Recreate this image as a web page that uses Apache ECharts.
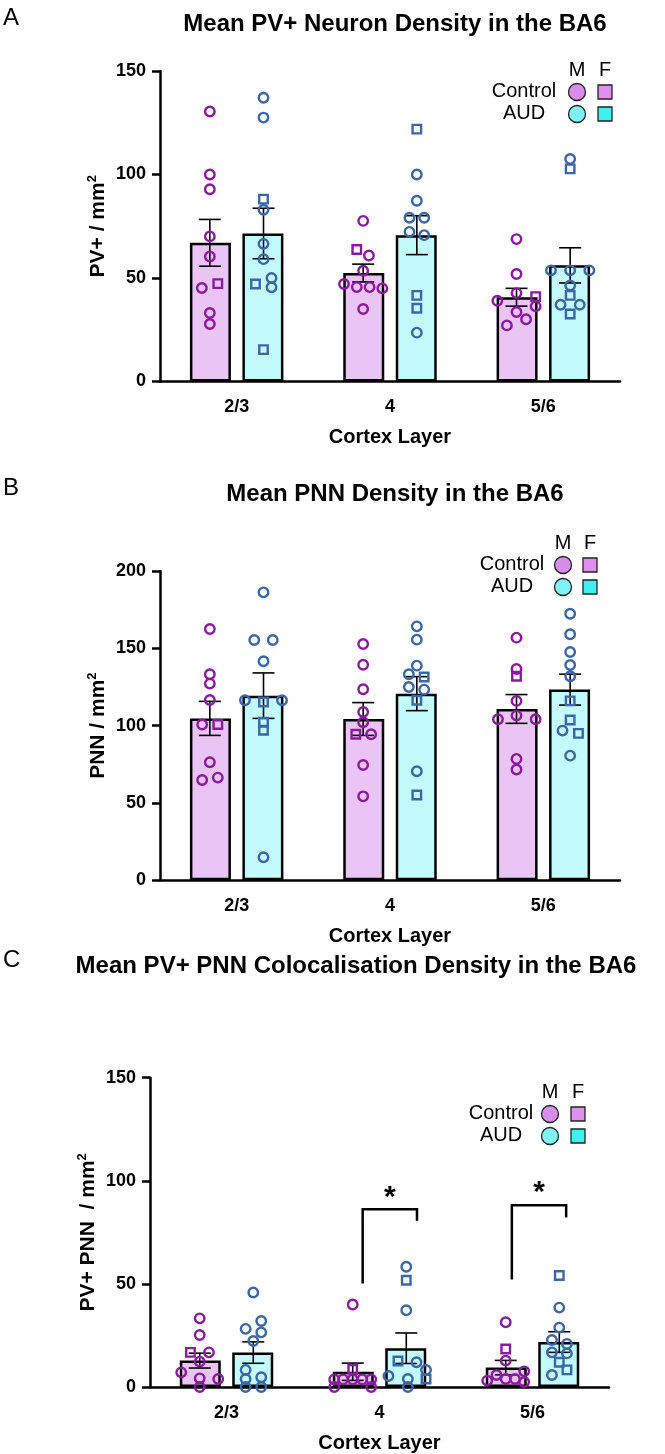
<!DOCTYPE html>
<html>
<head>
<meta charset="utf-8">
<script src="https://cdn.jsdelivr.net/npm/echarts/dist/echarts.min.js"></script>
<style>
  html, body { margin: 0; background: #fff; }
  #chart { width: 665px; height: 1454px; }
</style>
</head>
<body>
<div id="chart"></div>
<script>
const layers = ['2/3', '4', '5/6'];

// A: PV+ neuron density (mean, SEM)
const pvCtrlMean = [67.0, 52.4, 40.7];
const pvCtrlSem = [11.3, 4.3, 4.3];
const pvAudMean = [71.5, 70.7, 56.1];
const pvAudSem = [12.2, 9.4, 8.5];
// individual points per layer: [value, jitter]
const pvCtrlM = [
  [[130.4, 0], [100, 0], [92.9, 0], [70.1, 0], [60.4, 0], [45.2, -1.25], [33.1, 0], [27.8, 0]],
  [[77.6, 0], [60.9, 0.9], [53.5, 0], [47.1, -3], [45.6, -1], [45.6, 1], [45.0, 3], [35.0, 0]],
  [[68.8, 0], [51.9, 0], [39.0, -3], [42.7, 0], [36.3, 3], [33.6, 0], [30.1, 1.5], [27.1, -1.5]]
];
const pvCtrlF = [[[47.3, 1.25]], [[63.8, -1]], [[41.0, 3]]];
const pvAudM = [
  [[137.1, 0], [127.5, 0], [83.0, 0], [66.5, 0], [59.1, 0], [50.0, 1.25], [45.5, 1.25]],
  [[100, 0], [87.3, 0], [79.1, -1.15], [79.1, 1.15], [72.3, -1.15], [70.7, 1.15], [23.6, 0]],
  [[107.5, 0], [53.7, -3], [53.7, 0], [53.7, 3], [46.4, 0], [37.1, -1.5], [37.1, 1.5]]
];
const pvAudF = [
  [[88.1, 0], [47.1, -1.25], [15.4, 0]],
  [[121.9, 0], [41.6, 0], [35.4, 0]],
  [[102.7, 0], [41.6, 0], [32.6, 0]]
];

// B: PNN density
const pnnCtrlMean = [104.7, 104.3, 110.8];
const pnnCtrlSem = [11.0, 10.6, 9.3];
const pnnAudMean = [119.4, 120.7, 123.3];
const pnnAudSem = [14.7, 11.0, 10.0];
const pnnCtrlM = [
  [[162.5, 0], [133.2, 0], [127.2, 0], [116.6, 0], [100.7, -1.2], [76.3, 0], [64.9, -1.2], [66.4, 1.25]],
  [[152.8, 0], [139.4, 0], [123.5, 0], [108.8, 0], [102.2, 0], [94.4, 1.25], [74.6, 0], [54.3, 0]],
  [[156.9, 0], [136.6, 0], [116.0, 0], [106.5, 0], [104.1, -2.9], [104.1, 3], [78.5, 0], [71.6, 0]]
];
const pnnCtrlF = [[[100.7, 1.25]], [[94.4, -1.15]], [[131.9, 0]]];
const pnnAudM = [
  [[186.2, 0], [155.4, -1.45], [155.4, 1.45], [141.6, 0], [116.4, -2.9], [116.4, 2.9], [14.9, 0]],
  [[164.2, 0], [155.6, 0], [138.8, 0], [133.2, -1.25], [125.0, -1.25], [123.3, 1.15], [70.5, 0]],
  [[172.4, 0], [159.1, 0], [147.6, 0], [139.2, 0], [131.9, 0], [96.8, -1.2], [80.6, 0]]
];
const pnnAudF = [
  [[115.3, 0], [102.2, 0], [97.0, 0]],
  [[131.5, 1.15], [116.4, 0], [55.2, 0]],
  [[116.0, 0], [103.7, 0], [95.0, 1.3]]
];

// C: PV+ PNN colocalisation density
const colCtrlMean = [12.8, 7.4, 9.4];
const colCtrlSem = [3.6, 4.2, 3.5];
const colAudMean = [16.7, 18.8, 21.8];
const colAudSem = [5.2, 7.4, 5.0];
const colCtrlM = [
  [[33.3, 0], [25.2, 0], [16.8, 1.45], [12.3, 0], [7.1, -2.9], [4.2, 0], [3.9, 2.9], [0, 0]],
  [[40.0, 0], [3.7, -2.9], [3.7, -1.5], [3.7, 0], [3.7, 1.5], [3.7, 2.9], [0, -2.9], [0, 2.9]],
  [[31.4, 0], [12.8, 0], [3.1, -2.9], [5.8, -1.45], [3.9, 0], [3.9, 1.45], [7.6, 2.9], [2.4, 2.9]]
];
const colCtrlF = [[[16.8, -1.45]], [[8.6, 0]], [[18.4, 0]]];
const colAudM = [
  [[45.8, 0], [32.0, 1.25], [28.2, -1.2], [26.5, 1.25], [22.3, 0], [8.3, -1.2], [4.7, 1.25], [3.9, -1.2], [0, -1.2], [0, 1.25]],
  [[58.3, 0], [37.2, 0], [12.0, 1.6], [5.3, -2.8], [3.9, 0.25], [8.3, 3.1], [0, 0.25]],
  [[38.5, 0], [28.8, 0], [22.8, -1.15], [20.9, 1.2], [16.8, -1.15], [16.3, 1.2], [5.8, -1.15]]
];
const colAudF = [
  [],
  [[51.8, 0], [12.6, -1.3], [3.9, 3.1]],
  [[54.1, 0], [12.0, 0], [8.3, 1.2]]
];
// significance brackets (layer index, left leg end, top, right leg end)
const sigLayer = [1, 2];
const sigLeft = [50.2, 52.1];
const sigTop = [86.2, 88.2];
const sigRight = [80.6, 82.2];

const FONT = '"Liberation Sans", Arial, Helvetica, sans-serif';
const CTRL_BAR = '#eac4f4';
const AUD_BAR = '#c3fafb';
const CTRL_PT = '#8a1b9f';
const AUD_PT = '#3b67a6';
const OFF = 0.175;      // half distance between paired bars, in band units
const JIT = 1 / 24;     // jitter step, in band units

const panels = [
  {
    letter: 'A', title: 'Mean PV+ Neuron Density in the BA6', yName: 'PV+ / mm{s|2}', max: 150,
    grid: { left: 160, top: 71, width: 460, height: 310.5 }, titleX: 390, titleY: 20, nameX: 98,
    ctrlMean: pvCtrlMean, ctrlSem: pvCtrlSem, audMean: pvAudMean, audSem: pvAudSem,
    ctrlM: pvCtrlM, ctrlF: pvCtrlF, audM: pvAudM, audF: pvAudF,
    legend: { x: 524, mx: 577, fx: 605, y: 70 }
  },
  {
    letter: 'B', title: 'Mean PNN Density in the BA6', yName: 'PNN / mm{s|2}', max: 200,
    grid: { left: 160, top: 571, width: 460, height: 309.3 }, titleX: 390, titleY: 490, nameX: 98,
    ctrlMean: pnnCtrlMean, ctrlSem: pnnCtrlSem, audMean: pnnAudMean, audSem: pnnAudSem,
    ctrlM: pnnCtrlM, ctrlF: pnnCtrlF, audM: pnnAudM, audF: pnnAudF,
    legend: { x: 512, mx: 563, fx: 590, y: 543 }
  },
  {
    letter: 'C', title: 'Mean PV+ PNN Colocalisation Density in the BA6', yName: 'PV+ PNN  / mm{s|2}', max: 150,
    grid: { left: 150, top: 1077.7, width: 459, height: 309.3 }, titleX: 351, titleY: 962, nameX: 88,
    ctrlMean: colCtrlMean, ctrlSem: colCtrlSem, audMean: colAudMean, audSem: colAudSem,
    ctrlM: colCtrlM, ctrlF: colCtrlF, audM: colAudM, audF: colAudF,
    legend: { x: 501, mx: 550, fx: 578, y: 1092 }
  }
];

function points(groups, shift) {
  const out = [];
  groups.forEach((list, i) => {
    list.forEach(p => out.push([i + 0.5 + shift + p[1] * JIT, p[0]]));
  });
  return out;
}

function errorBars(params, api) {
  const x = api.value(0), m = api.value(1), s = api.value(2);
  const hi = api.coord([x, m + s]);
  const lo = api.coord([x, m - s]);
  const cx = hi[0];
  const st = { stroke: '#000', lineWidth: 1.6 };
  return {
    type: 'group',
    children: [
      { type: 'line', shape: { x1: cx, y1: hi[1], x2: cx, y2: lo[1] }, style: st },
      { type: 'line', shape: { x1: cx - 11, y1: hi[1], x2: cx + 11, y2: hi[1] }, style: st },
      { type: 'line', shape: { x1: cx - 11, y1: lo[1], x2: cx + 11, y2: lo[1] }, style: st }
    ]
  };
}

const bracketSpan = [[-0.11, 0.245], [-0.135, 0.22]];
function brackets(params, api) {
  const span = bracketSpan[params.dataIndex];
  const c = api.value(0) + 0.5;
  const l = api.coord([c + span[0], api.value(1)]);
  const t = api.coord([c + span[0], api.value(2)]);
  const r = api.coord([c + span[1], api.value(3)]);
  const tr = api.coord([c + span[1], api.value(2)]);
  return {
    type: 'group',
    children: [
      { type: 'polyline', shape: { points: [l, t, tr, r] }, style: { stroke: '#000', lineWidth: 2.5, fill: null } },
      { type: 'text', style: { text: '*', x: (t[0] + tr[0]) / 2, y: t[1] - 12, align: 'center', verticalAlign: 'middle', font: 'bold 30px ' + FONT, fill: '#000' } }
    ]
  };
}

const grid = [], xAxis = [], yAxis = [], series = [], title = [], graphic = [];
const axisText = { color: '#000', fontFamily: FONT, fontWeight: 'bold', fontSize: 18 };

panels.forEach((p, g) => {
  grid.push(p.grid);
  title.push({
    text: p.title, left: p.titleX, top: p.titleY - 13, textAlign: 'center',
    textStyle: { fontFamily: FONT, fontWeight: 'bold', fontSize: 24, color: '#000' }
  });
  graphic.push({
    type: 'text', left: 3, top: p.titleY - 14,
    style: { text: p.letter, font: '24px ' + FONT, fill: '#000' }
  });
  // y axis title, rotated, with superscript
  graphic.push({
    type: 'text', x: p.nameX, y: p.grid.top + p.grid.height / 2, rotation: Math.PI / 2,
    style: {
      text: p.yName, font: 'bold 21px ' + FONT, fill: '#000', align: 'center', verticalAlign: 'middle',
      lineHeight: 24,
      rich: { s: { font: 'bold 13px ' + FONT, fill: '#000', verticalAlign: 'top', lineHeight: 24 } }
    }
  });
  xAxis.push({
    type: 'category', gridIndex: g, data: layers,
    axisLine: { lineStyle: { color: '#000', width: 2.5 } },
    axisTick: { alignWithLabel: true, length: 10, lineStyle: { color: '#000', width: 2.5 } },
    axisLabel: Object.assign({ margin: 17 }, axisText),
    name: 'Cortex Layer', nameLocation: 'middle', nameGap: 46,
    nameTextStyle: { color: '#000', fontFamily: FONT, fontWeight: 'bold', fontSize: 20 }
  });
  xAxis.push({ type: 'value', gridIndex: g, min: 0, max: 3, show: false });
  yAxis.push({
    type: 'value', gridIndex: g, min: 0, max: p.max, interval: 50,
    axisLine: { show: true, lineStyle: { color: '#000', width: 2.5 } },
    axisTick: { show: true, length: 8, lineStyle: { color: '#000', width: 2.5 } },
    splitLine: { show: false },
    axisLabel: Object.assign({ margin: 14 }, axisText)
  });

  const cat = 2 * g, val = 2 * g + 1;
  [[p.ctrlMean, CTRL_BAR], [p.audMean, AUD_BAR]].forEach(([d, col]) => {
    series.push({
      type: 'bar', xAxisIndex: cat, yAxisIndex: g, data: d, barWidth: 41, barGap: '28%',
      itemStyle: { color: col, borderColor: '#000', borderWidth: 2.5 }, z: 2
    });
  });
  series.push({
    type: 'custom', xAxisIndex: val, yAxisIndex: g, renderItem: errorBars, z: 4,
    encode: { x: 0, y: 1 },
    data: layers.map((_, i) => [i + 0.5 - OFF, p.ctrlMean[i], p.ctrlSem[i]])
      .concat(layers.map((_, i) => [i + 0.5 + OFF, p.audMean[i], p.audSem[i]]))
  });
  [[p.ctrlM, -OFF, CTRL_PT, 'circle', 9.5], [p.ctrlF, -OFF, CTRL_PT, 'rect', 8.5],
   [p.audM, OFF, AUD_PT, 'circle', 9.5], [p.audF, OFF, AUD_PT, 'rect', 8.5]].forEach(([d, sh, col, sym, size]) => {
    series.push({
      type: 'scatter', xAxisIndex: val, yAxisIndex: g, data: points(d, sh),
      symbol: sym, symbolSize: size, z: 6,
      itemStyle: { color: 'rgba(255,255,255,0)', borderColor: col, borderWidth: 2.4, opacity: 1 }
    });
  });

  // legend block
  const L = p.legend;
  const txt = (s, x, y, align) => ({
    type: 'text', x: x, y: y,
    style: { text: s, font: '20px ' + FONT, fill: '#000', align: align, verticalAlign: 'middle' }
  });
  graphic.push(txt('M', L.mx, L.y, 'center'), txt('F', L.fx, L.y, 'center'));
  graphic.push(txt('Control', L.x, L.y + 21, 'center'), txt('AUD', L.x, L.y + 43, 'center'));
  graphic.push({ type: 'circle', shape: { cx: L.mx, cy: L.y + 22, r: 8.5 }, style: { fill: '#d98ce9', stroke: '#222', lineWidth: 1.3 } });
  graphic.push({ type: 'circle', shape: { cx: L.mx, cy: L.y + 44, r: 8.5 }, style: { fill: '#7df5f6', stroke: '#222', lineWidth: 1.3 } });
  graphic.push({ type: 'rect', shape: { x: L.fx - 7, y: L.y + 15, width: 14, height: 14 }, style: { fill: '#e08ff0', stroke: '#222', lineWidth: 1.3 } });
  graphic.push({ type: 'rect', shape: { x: L.fx - 7, y: L.y + 37, width: 14, height: 14 }, style: { fill: '#3ff0f1', stroke: '#222', lineWidth: 1.3 } });
});

series.push({
  type: 'custom', xAxisIndex: 5, yAxisIndex: 2, renderItem: brackets, z: 5,
  encode: { x: 0, y: 2 },
  data: sigLayer.map((l, i) => [l, sigLeft[i], sigTop[i], sigRight[i]])
});

const chart = echarts.init(document.getElementById('chart'));
chart.setOption({
  animation: false,
  backgroundColor: '#fff',
  title: title,
  grid: grid,
  xAxis: xAxis,
  yAxis: yAxis,
  series: series,
  graphic: graphic
});
</script>
</body>
</html>
